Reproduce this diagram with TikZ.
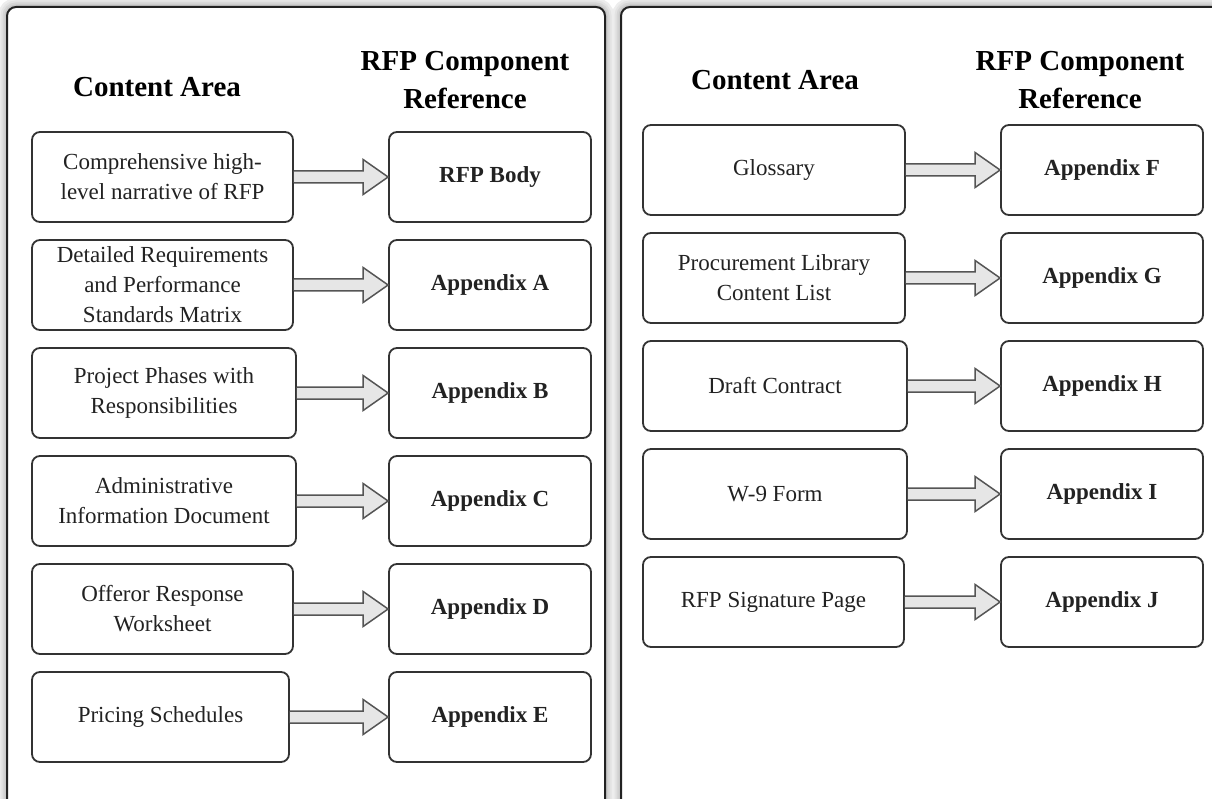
\documentclass[tikz,border=0pt]{standalone}
\usepackage{fontspec}
\setmainfont{Liberation Serif}
\usetikzlibrary{calc}

\definecolor{boxline}{HTML}{333333}
\definecolor{panelline}{HTML}{222222}
\definecolor{arrowfill}{HTML}{E6E6E6}
\definecolor{arrowline}{HTML}{555555}
\definecolor{bodytext}{HTML}{222222}

\newcommand{\blockarrow}[2]{
  \coordinate (s) at (#1.east);
  \coordinate (t) at (#2.west);

  \filldraw [fill=arrowfill, draw=arrowline, line width=1.5pt, line join=miter]
  ($(s)+(0,-6)$) -- ($(t)+(-25,-6)$) -- ($(t)+(-25,-17.5)$) -- (t)
  -- ($(t)+(-25,17.5)$) -- ($(t)+(-25,6)$) -- ($(s)+(0,6)$);
}

\newcommand{\panel}[2]{
  \foreach \w/\c in {18/gray!14, 13/gray!22, 9/gray!32, 5/gray!42}
    \draw [line width=\w pt, \c, rounded corners=9pt] (#1) rectangle (#2);
  \draw [fill=white, draw=panelline, line width=2pt, rounded corners=9pt]
  (#1) rectangle (#2);
}

\begin{document}
\begin{tikzpicture}[x=1pt, y=-1pt,
    head/.style={font=\fontsize{29}{38}\selectfont\bfseries, align=center,
      inner sep=0pt},
    area/.style={draw=boxline, fill=white, line width=1.8pt,
      rounded corners=8pt, minimum height=90pt, minimum width=261pt,
      align=center, inner sep=0pt, text=bodytext,
      font=\fontsize{23}{30}\selectfont},
    ref/.style={area, minimum width=202pt, font=\fontsize{23}{30}\selectfont\bfseries}]

    \useasboundingbox (0,0) rectangle (1212,799);

    \coordinate (l0) at (7,7);
    \coordinate (l1) at (605,840);
    \coordinate (r0) at (621,7);
    \coordinate (r1) at (1240,840);

    \panel{l0}{l1}
    \panel{r0}{r1}

    % left panel
    \node [head] (hl1) at (157,87) {Content Area};
    \node [head] (hl2) at (465,80) {RFP Component\\Reference};

    \node [area] (ca1) at (162.5,177) {Comprehensive high-\\level narrative of RFP};
    \node [area] (ca2) at (162.5,285) {Detailed Requirements\\and Performance\\Standards Matrix};
    \node [area, minimum width=264pt] (ca3) at (164,393) {Project Phases with\\Responsibilities};
    \node [area, minimum width=264pt] (ca4) at (164,501) {Administrative\\Information Document};
    \node [area] (ca5) at (162.5,609) {Offeror Response\\Worksheet};
    \node [area, minimum width=257pt] (ca6) at (160.5,717) {Pricing Schedules};

    \node [ref] (rc1) at (490,177) {RFP Body};
    \node [ref] (rc2) at (490,285) {Appendix A};
    \node [ref] (rc3) at (490,393) {Appendix B};
    \node [ref] (rc4) at (490,501) {Appendix C};
    \node [ref] (rc5) at (490,609) {Appendix D};
    \node [ref] (rc6) at (490,717) {Appendix E};

    \blockarrow{ca1}{rc1}
    \blockarrow{ca2}{rc2}
    \blockarrow{ca3}{rc3}
    \blockarrow{ca4}{rc4}
    \blockarrow{ca5}{rc5}
    \blockarrow{ca6}{rc6}

    % right panel
    \node [head] (hr1) at (775,80) {Content Area};
    \node [head] (hr2) at (1080,80) {RFP Component\\Reference};

    \node [area, minimum width=262pt] (ca7) at (774,170) {Glossary};
    \node [area, minimum width=262pt] (ca8) at (774,278) {Procurement Library\\Content List};
    \node [area, minimum width=264pt] (ca9) at (775,386) {Draft Contract};
    \node [area, minimum width=264pt] (ca10) at (775,494) {W-9 Form};
    \node [area] (ca11) at (773.5,602) {RFP Signature Page};

    \node [ref] (rc7) at (1102,170) {Appendix F};
    \node [ref] (rc8) at (1102,278) {Appendix G};
    \node [ref] (rc9) at (1102,386) {Appendix H};
    \node [ref] (rc10) at (1102,494) {Appendix I};
    \node [ref] (rc11) at (1102,602) {Appendix J};

    \blockarrow{ca7}{rc7}
    \blockarrow{ca8}{rc8}
    \blockarrow{ca9}{rc9}
    \blockarrow{ca10}{rc10}
    \blockarrow{ca11}{rc11}
\end{tikzpicture}
\end{document}
